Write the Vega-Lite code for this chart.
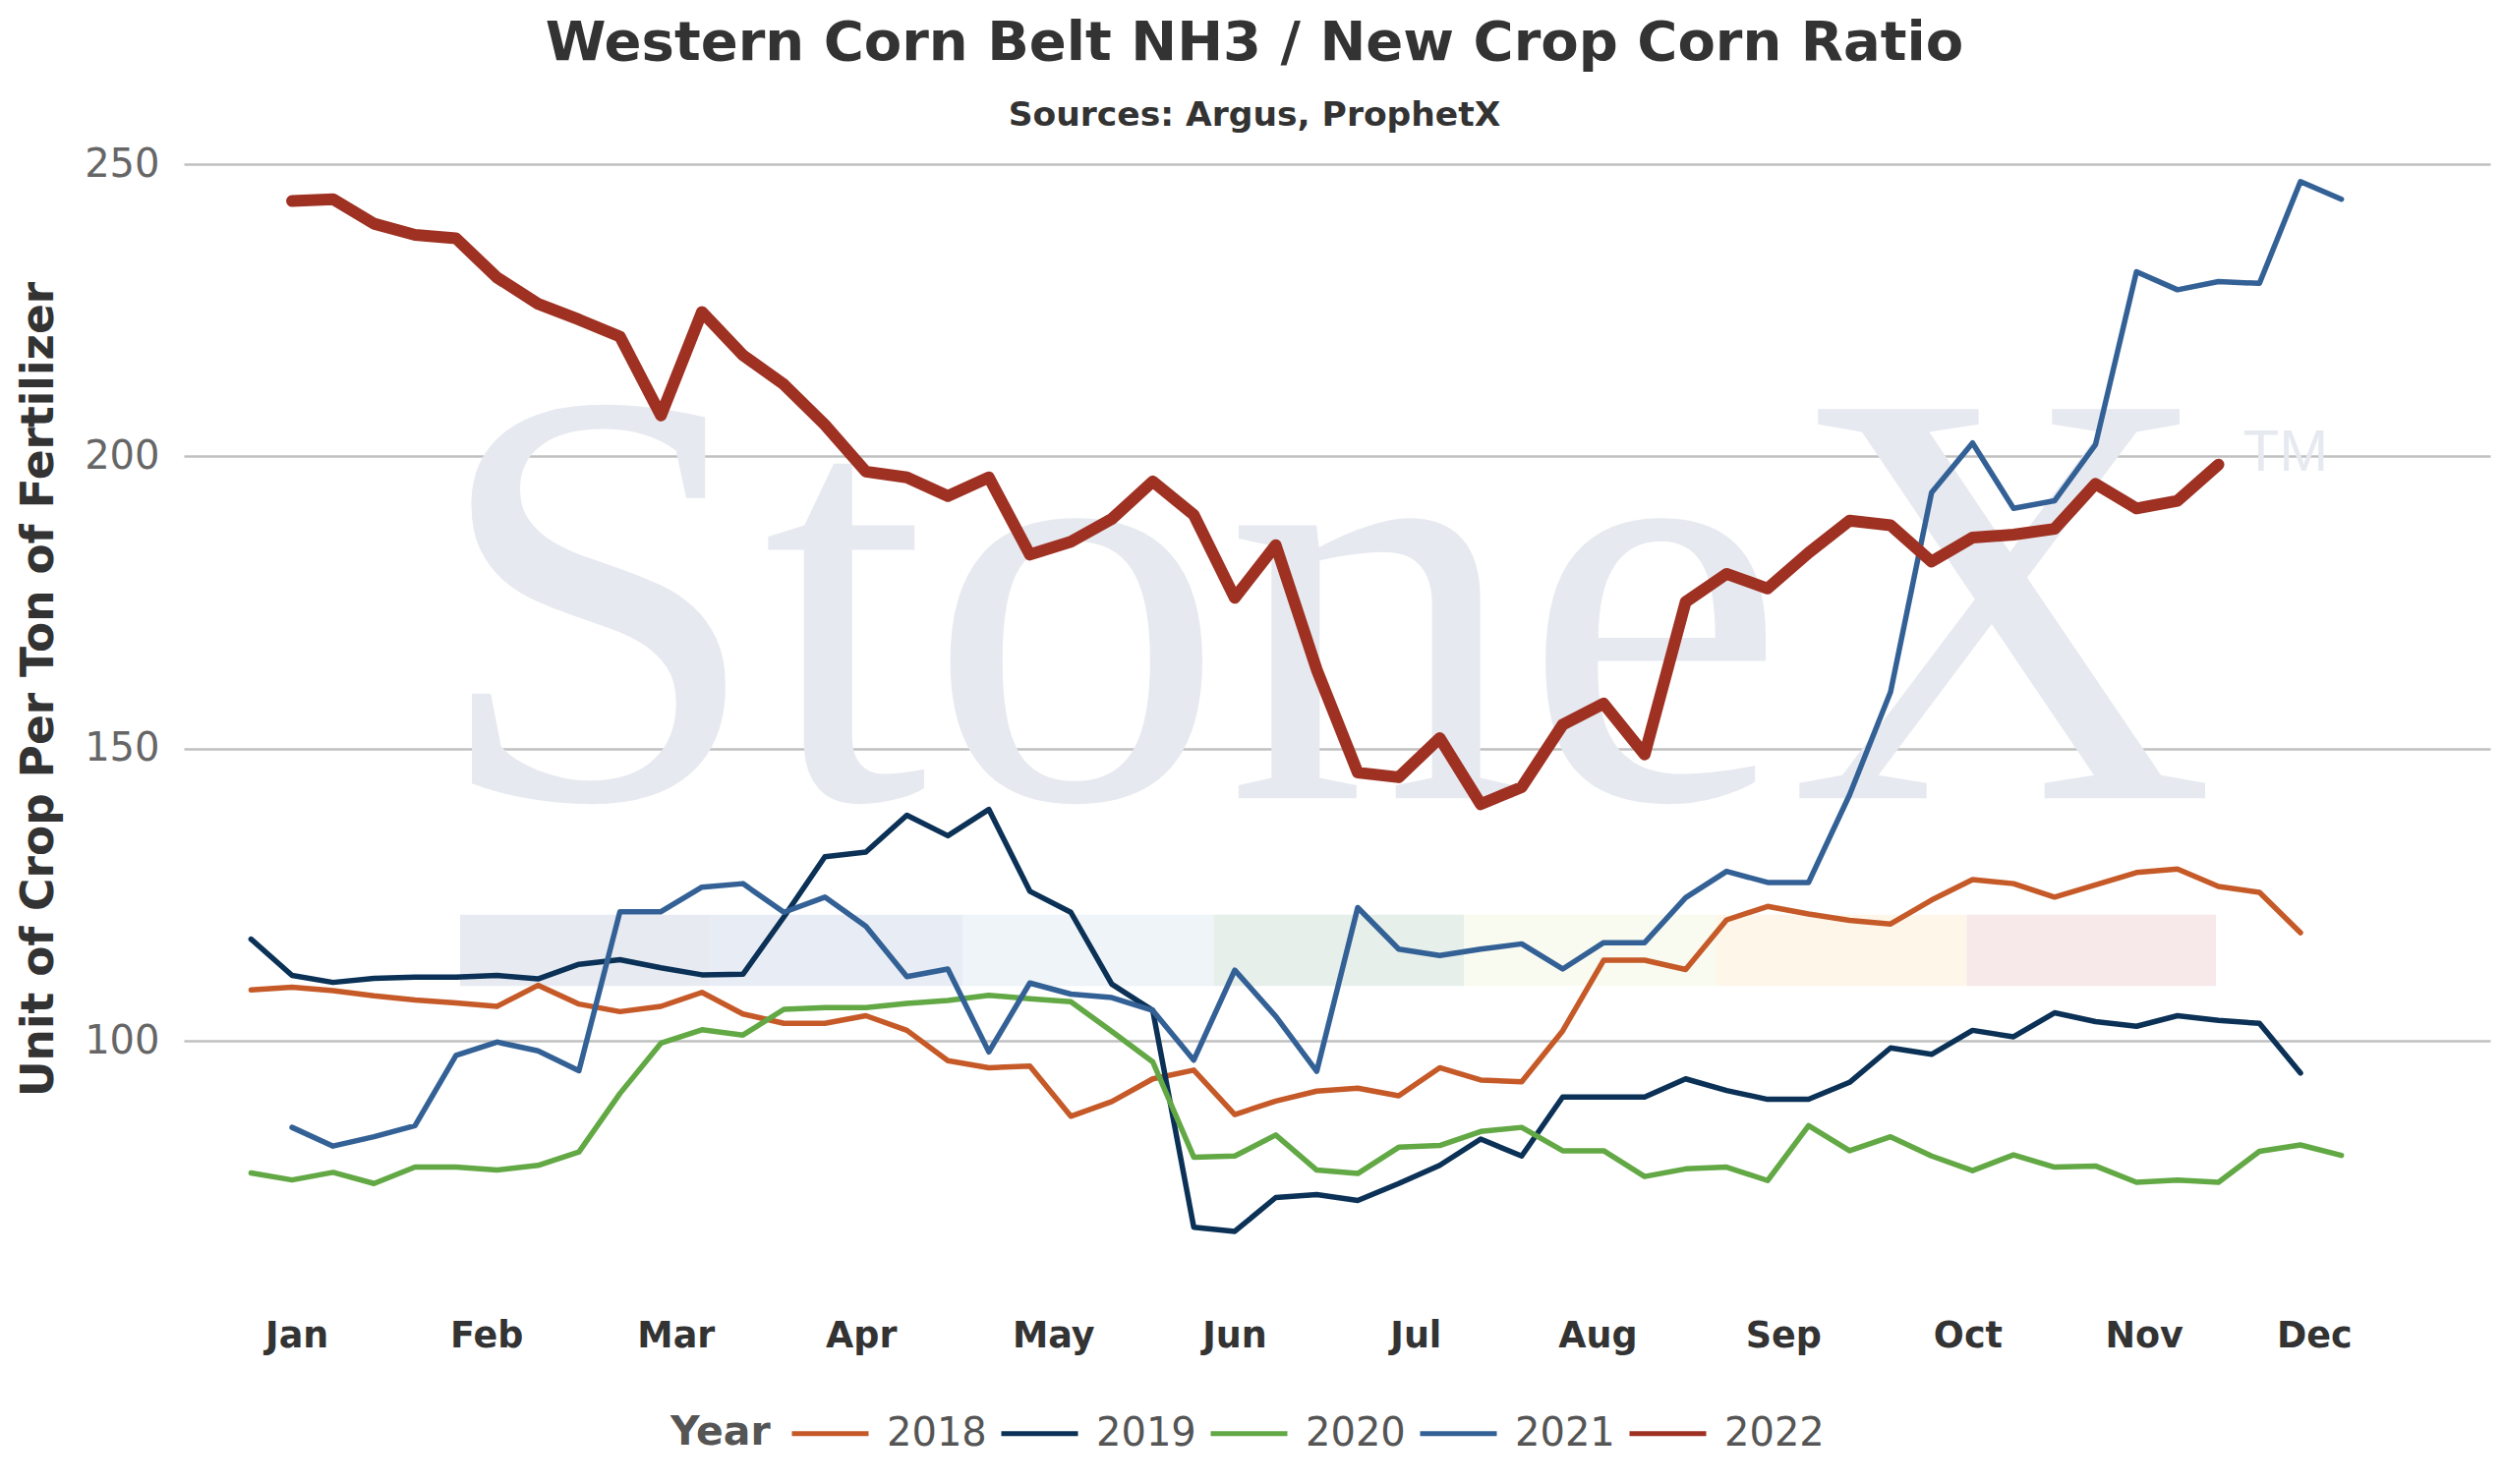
{
  "$schema": "https://vega.github.io/schema/vega-lite/v6.json",
  "width": 2346,
  "height": 1130,
  "autosize": {"type": "none"},
  "padding": {"left": 187, "top": 167, "right": 13, "bottom": 213},
  "background": "white",
  "title": {
    "text": "Western Corn Belt NH3 / New Crop Corn Ratio",
    "subtitle": "Sources: Argus, ProphetX",
    "anchor": "middle",
    "dx": -84,
    "offset": 12,
    "font": "DejaVu Sans",
    "fontSize": 56,
    "fontWeight": "bold",
    "color": "#333333",
    "subtitleFont": "DejaVu Sans",
    "subtitleFontSize": 34.5,
    "subtitleFontWeight": "bold",
    "subtitleColor": "#333333",
    "subtitlePadding": 28
  },
  "layer": [
    {
      "data": {
        "values": [
          {"Band": "B1", "Start": 5.1, "End": 11.21},
          {"Band": "B2", "Start": 11.21, "End": 17.37},
          {"Band": "B3", "Start": 17.37, "End": 23.48},
          {"Band": "B4", "Start": 23.48, "End": 29.6},
          {"Band": "B5", "Start": 29.6, "End": 35.75},
          {"Band": "B6", "Start": 35.75, "End": 41.86},
          {"Band": "B7", "Start": 41.86, "End": 47.94}
        ]
      },
      "mark": {"type": "rect"},
      "encoding": {
        "x": {"field": "Start", "type": "quantitative", "scale": {"domain": [-1.64, 54.63], "nice": false, "zero": false}},
        "x2": {"field": "End"},
        "y": {"datum": 109.4, "type": "quantitative", "scale": {"domain": [60, 250], "nice": false, "zero": false}},
        "y2": {"datum": 121.6},
        "fill": {
          "field": "Band",
          "type": "nominal",
          "scale": {
            "domain": ["B1", "B2", "B3", "B4", "B5", "B6", "B7"],
            "range": ["#e7ebf1", "#e8edf5", "#eef4f8", "#e6efe9", "#fafbf0", "#fdf6e9", "#f7e8e9"]
          },
          "legend": null
        }
      }
    },
    {
      "data": {"values": [{"Label": "StoneX"}]},
      "mark": {"type": "text", "font": "Liberation Serif", "fontSize": 605, "color": "#e6e9ef", "align": "center", "baseline": "alphabetic"},
      "encoding": {
        "x": {"datum": 26.17, "type": "quantitative", "scale": {"domain": [-1.64, 54.63], "nice": false, "zero": false}},
        "y": {"datum": 141.5, "type": "quantitative", "scale": {"domain": [60, 250], "nice": false, "zero": false}},
        "text": {"field": "Label"}
      }
    },
    {
      "data": {"values": [{"Label": "TM"}]},
      "mark": {"type": "text", "font": "Liberation Sans", "fontSize": 60, "color": "#e6e9ef", "align": "left", "baseline": "alphabetic"},
      "encoding": {
        "x": {"datum": 48.6, "type": "quantitative", "scale": {"domain": [-1.64, 54.63], "nice": false, "zero": false}},
        "y": {"datum": 197.5, "type": "quantitative", "scale": {"domain": [60, 250], "nice": false, "zero": false}},
        "text": {"field": "Label"}
      }
    },
    {
      "data": {
        "values": [
          {"Year": "2018", "Week": 0, "Ratio": 108.7}, {"Year": "2018", "Week": 1, "Ratio": 109.2}, {"Year": "2018", "Week": 2, "Ratio": 108.6},
          {"Year": "2018", "Week": 3, "Ratio": 107.7}, {"Year": "2018", "Week": 4, "Ratio": 107.0}, {"Year": "2018", "Week": 5, "Ratio": 106.5},
          {"Year": "2018", "Week": 6, "Ratio": 105.9}, {"Year": "2018", "Week": 7, "Ratio": 109.5}, {"Year": "2018", "Week": 8, "Ratio": 106.3},
          {"Year": "2018", "Week": 9, "Ratio": 105.0}, {"Year": "2018", "Week": 10, "Ratio": 105.9}, {"Year": "2018", "Week": 11, "Ratio": 108.3},
          {"Year": "2018", "Week": 12, "Ratio": 104.6}, {"Year": "2018", "Week": 13, "Ratio": 103.0}, {"Year": "2018", "Week": 14, "Ratio": 103.0},
          {"Year": "2018", "Week": 15, "Ratio": 104.3}, {"Year": "2018", "Week": 16, "Ratio": 101.8}, {"Year": "2018", "Week": 17, "Ratio": 96.6},
          {"Year": "2018", "Week": 18, "Ratio": 95.4}, {"Year": "2018", "Week": 19, "Ratio": 95.7}, {"Year": "2018", "Week": 20, "Ratio": 87.1},
          {"Year": "2018", "Week": 21, "Ratio": 89.6}, {"Year": "2018", "Week": 22, "Ratio": 93.5}, {"Year": "2018", "Week": 23, "Ratio": 95.0},
          {"Year": "2018", "Week": 24, "Ratio": 87.4}, {"Year": "2018", "Week": 25, "Ratio": 89.7}, {"Year": "2018", "Week": 26, "Ratio": 91.4},
          {"Year": "2018", "Week": 27, "Ratio": 91.9}, {"Year": "2018", "Week": 28, "Ratio": 90.6}, {"Year": "2018", "Week": 29, "Ratio": 95.4},
          {"Year": "2018", "Week": 30, "Ratio": 93.3}, {"Year": "2018", "Week": 31, "Ratio": 93.0}, {"Year": "2018", "Week": 32, "Ratio": 101.7},
          {"Year": "2018", "Week": 33, "Ratio": 113.8}, {"Year": "2018", "Week": 34, "Ratio": 113.8}, {"Year": "2018", "Week": 35, "Ratio": 112.2},
          {"Year": "2018", "Week": 36, "Ratio": 120.7}, {"Year": "2018", "Week": 37, "Ratio": 123.0}, {"Year": "2018", "Week": 38, "Ratio": 121.7},
          {"Year": "2018", "Week": 39, "Ratio": 120.6}, {"Year": "2018", "Week": 40, "Ratio": 120.0}, {"Year": "2018", "Week": 41, "Ratio": 124.1},
          {"Year": "2018", "Week": 42, "Ratio": 127.6}, {"Year": "2018", "Week": 43, "Ratio": 126.9}, {"Year": "2018", "Week": 44, "Ratio": 124.6},
          {"Year": "2018", "Week": 45, "Ratio": 126.7}, {"Year": "2018", "Week": 46, "Ratio": 128.8}, {"Year": "2018", "Week": 47, "Ratio": 129.4},
          {"Year": "2018", "Week": 48, "Ratio": 126.4}, {"Year": "2018", "Week": 49, "Ratio": 125.4}, {"Year": "2018", "Week": 50, "Ratio": 118.5},

          {"Year": "2019", "Week": 0, "Ratio": 117.4}, {"Year": "2019", "Week": 1, "Ratio": 111.2}, {"Year": "2019", "Week": 2, "Ratio": 110.0},
          {"Year": "2019", "Week": 3, "Ratio": 110.7}, {"Year": "2019", "Week": 4, "Ratio": 110.9}, {"Year": "2019", "Week": 5, "Ratio": 110.9},
          {"Year": "2019", "Week": 6, "Ratio": 111.2}, {"Year": "2019", "Week": 7, "Ratio": 110.6}, {"Year": "2019", "Week": 8, "Ratio": 113.1},
          {"Year": "2019", "Week": 9, "Ratio": 113.9}, {"Year": "2019", "Week": 10, "Ratio": 112.5}, {"Year": "2019", "Week": 11, "Ratio": 111.3},
          {"Year": "2019", "Week": 12, "Ratio": 111.4}, {"Year": "2019", "Week": 13, "Ratio": 121.2}, {"Year": "2019", "Week": 14, "Ratio": 131.5},
          {"Year": "2019", "Week": 15, "Ratio": 132.3}, {"Year": "2019", "Week": 16, "Ratio": 138.6}, {"Year": "2019", "Week": 17, "Ratio": 135.1},
          {"Year": "2019", "Week": 18, "Ratio": 139.6}, {"Year": "2019", "Week": 19, "Ratio": 125.6}, {"Year": "2019", "Week": 20, "Ratio": 122.0},
          {"Year": "2019", "Week": 21, "Ratio": 109.7}, {"Year": "2019", "Week": 22, "Ratio": 105.2}, {"Year": "2019", "Week": 23, "Ratio": 68.1},
          {"Year": "2019", "Week": 24, "Ratio": 67.4}, {"Year": "2019", "Week": 25, "Ratio": 73.2}, {"Year": "2019", "Week": 26, "Ratio": 73.7},
          {"Year": "2019", "Week": 27, "Ratio": 72.7}, {"Year": "2019", "Week": 28, "Ratio": 75.6}, {"Year": "2019", "Week": 29, "Ratio": 78.7},
          {"Year": "2019", "Week": 30, "Ratio": 83.2}, {"Year": "2019", "Week": 31, "Ratio": 80.3}, {"Year": "2019", "Week": 32, "Ratio": 90.4},
          {"Year": "2019", "Week": 33, "Ratio": 90.4}, {"Year": "2019", "Week": 34, "Ratio": 90.4}, {"Year": "2019", "Week": 35, "Ratio": 93.5},
          {"Year": "2019", "Week": 36, "Ratio": 91.5}, {"Year": "2019", "Week": 37, "Ratio": 90.0}, {"Year": "2019", "Week": 38, "Ratio": 90.0},
          {"Year": "2019", "Week": 39, "Ratio": 92.9}, {"Year": "2019", "Week": 40, "Ratio": 98.8}, {"Year": "2019", "Week": 41, "Ratio": 97.7},
          {"Year": "2019", "Week": 42, "Ratio": 101.8}, {"Year": "2019", "Week": 43, "Ratio": 100.7}, {"Year": "2019", "Week": 44, "Ratio": 104.8},
          {"Year": "2019", "Week": 45, "Ratio": 103.3}, {"Year": "2019", "Week": 46, "Ratio": 102.5}, {"Year": "2019", "Week": 47, "Ratio": 104.3},
          {"Year": "2019", "Week": 48, "Ratio": 103.5}, {"Year": "2019", "Week": 49, "Ratio": 103.0}, {"Year": "2019", "Week": 50, "Ratio": 94.5},

          {"Year": "2020", "Week": 0, "Ratio": 77.4}, {"Year": "2020", "Week": 1, "Ratio": 76.2}, {"Year": "2020", "Week": 2, "Ratio": 77.5},
          {"Year": "2020", "Week": 3, "Ratio": 75.6}, {"Year": "2020", "Week": 4, "Ratio": 78.4}, {"Year": "2020", "Week": 5, "Ratio": 78.4},
          {"Year": "2020", "Week": 6, "Ratio": 77.9}, {"Year": "2020", "Week": 7, "Ratio": 78.7}, {"Year": "2020", "Week": 8, "Ratio": 81.0},
          {"Year": "2020", "Week": 9, "Ratio": 91.0}, {"Year": "2020", "Week": 10, "Ratio": 99.6}, {"Year": "2020", "Week": 11, "Ratio": 101.9},
          {"Year": "2020", "Week": 12, "Ratio": 101.0}, {"Year": "2020", "Week": 13, "Ratio": 105.4}, {"Year": "2020", "Week": 14, "Ratio": 105.7},
          {"Year": "2020", "Week": 15, "Ratio": 105.7}, {"Year": "2020", "Week": 16, "Ratio": 106.4}, {"Year": "2020", "Week": 17, "Ratio": 106.9},
          {"Year": "2020", "Week": 18, "Ratio": 107.8}, {"Year": "2020", "Week": 19, "Ratio": 107.2}, {"Year": "2020", "Week": 20, "Ratio": 106.7},
          {"Year": "2020", "Week": 21, "Ratio": 101.6}, {"Year": "2020", "Week": 22, "Ratio": 96.4}, {"Year": "2020", "Week": 23, "Ratio": 80.1},
          {"Year": "2020", "Week": 24, "Ratio": 80.3}, {"Year": "2020", "Week": 25, "Ratio": 83.9}, {"Year": "2020", "Week": 26, "Ratio": 77.9},
          {"Year": "2020", "Week": 27, "Ratio": 77.3}, {"Year": "2020", "Week": 28, "Ratio": 81.8}, {"Year": "2020", "Week": 29, "Ratio": 82.1},
          {"Year": "2020", "Week": 30, "Ratio": 84.5}, {"Year": "2020", "Week": 31, "Ratio": 85.2}, {"Year": "2020", "Week": 32, "Ratio": 81.2},
          {"Year": "2020", "Week": 33, "Ratio": 81.2}, {"Year": "2020", "Week": 34, "Ratio": 76.8}, {"Year": "2020", "Week": 35, "Ratio": 78.1},
          {"Year": "2020", "Week": 36, "Ratio": 78.4}, {"Year": "2020", "Week": 37, "Ratio": 76.1}, {"Year": "2020", "Week": 38, "Ratio": 85.5},
          {"Year": "2020", "Week": 39, "Ratio": 81.2}, {"Year": "2020", "Week": 40, "Ratio": 83.6}, {"Year": "2020", "Week": 41, "Ratio": 80.3},
          {"Year": "2020", "Week": 42, "Ratio": 77.8}, {"Year": "2020", "Week": 43, "Ratio": 80.5}, {"Year": "2020", "Week": 44, "Ratio": 78.4},
          {"Year": "2020", "Week": 45, "Ratio": 78.6}, {"Year": "2020", "Week": 46, "Ratio": 75.8}, {"Year": "2020", "Week": 47, "Ratio": 76.2},
          {"Year": "2020", "Week": 48, "Ratio": 75.8}, {"Year": "2020", "Week": 49, "Ratio": 81.1}, {"Year": "2020", "Week": 50, "Ratio": 82.2},
          {"Year": "2020", "Week": 51, "Ratio": 80.4},

          {"Year": "2021", "Week": 1, "Ratio": 85.2}, {"Year": "2021", "Week": 2, "Ratio": 82.0}, {"Year": "2021", "Week": 3, "Ratio": 83.6},
          {"Year": "2021", "Week": 4, "Ratio": 85.5}, {"Year": "2021", "Week": 5, "Ratio": 97.5}, {"Year": "2021", "Week": 6, "Ratio": 99.8},
          {"Year": "2021", "Week": 7, "Ratio": 98.3}, {"Year": "2021", "Week": 8, "Ratio": 94.9}, {"Year": "2021", "Week": 9, "Ratio": 122.1},
          {"Year": "2021", "Week": 10, "Ratio": 122.1}, {"Year": "2021", "Week": 11, "Ratio": 126.3}, {"Year": "2021", "Week": 12, "Ratio": 126.9},
          {"Year": "2021", "Week": 13, "Ratio": 122.0}, {"Year": "2021", "Week": 14, "Ratio": 124.6}, {"Year": "2021", "Week": 15, "Ratio": 119.6},
          {"Year": "2021", "Week": 16, "Ratio": 111.0}, {"Year": "2021", "Week": 17, "Ratio": 112.3}, {"Year": "2021", "Week": 18, "Ratio": 98.1},
          {"Year": "2021", "Week": 19, "Ratio": 109.9}, {"Year": "2021", "Week": 20, "Ratio": 108.0}, {"Year": "2021", "Week": 21, "Ratio": 107.4},
          {"Year": "2021", "Week": 22, "Ratio": 105.2}, {"Year": "2021", "Week": 23, "Ratio": 96.7}, {"Year": "2021", "Week": 24, "Ratio": 112.1},
          {"Year": "2021", "Week": 25, "Ratio": 104.2}, {"Year": "2021", "Week": 26, "Ratio": 94.8}, {"Year": "2021", "Week": 27, "Ratio": 122.8},
          {"Year": "2021", "Week": 28, "Ratio": 115.7}, {"Year": "2021", "Week": 29, "Ratio": 114.6}, {"Year": "2021", "Week": 30, "Ratio": 115.7},
          {"Year": "2021", "Week": 31, "Ratio": 116.6}, {"Year": "2021", "Week": 32, "Ratio": 112.3}, {"Year": "2021", "Week": 33, "Ratio": 116.8},
          {"Year": "2021", "Week": 34, "Ratio": 116.8}, {"Year": "2021", "Week": 35, "Ratio": 124.5}, {"Year": "2021", "Week": 36, "Ratio": 129.0},
          {"Year": "2021", "Week": 37, "Ratio": 127.1}, {"Year": "2021", "Week": 38, "Ratio": 127.1}, {"Year": "2021", "Week": 39, "Ratio": 142.1},
          {"Year": "2021", "Week": 40, "Ratio": 159.7}, {"Year": "2021", "Week": 41, "Ratio": 193.8}, {"Year": "2021", "Week": 42, "Ratio": 202.3},
          {"Year": "2021", "Week": 43, "Ratio": 191.1}, {"Year": "2021", "Week": 44, "Ratio": 192.4}, {"Year": "2021", "Week": 45, "Ratio": 202.0},
          {"Year": "2021", "Week": 46, "Ratio": 231.6}, {"Year": "2021", "Week": 47, "Ratio": 228.5}, {"Year": "2021", "Week": 48, "Ratio": 229.9},
          {"Year": "2021", "Week": 49, "Ratio": 229.6}, {"Year": "2021", "Week": 50, "Ratio": 247.0}, {"Year": "2021", "Week": 51, "Ratio": 244.0},

          {"Year": "2022", "Week": 1, "Ratio": 243.7}, {"Year": "2022", "Week": 2, "Ratio": 244.0}, {"Year": "2022", "Week": 3, "Ratio": 239.8},
          {"Year": "2022", "Week": 4, "Ratio": 237.9}, {"Year": "2022", "Week": 5, "Ratio": 237.3}, {"Year": "2022", "Week": 6, "Ratio": 230.6},
          {"Year": "2022", "Week": 7, "Ratio": 226.1}, {"Year": "2022", "Week": 8, "Ratio": 223.4}, {"Year": "2022", "Week": 9, "Ratio": 220.5},
          {"Year": "2022", "Week": 10, "Ratio": 207.0}, {"Year": "2022", "Week": 11, "Ratio": 224.7}, {"Year": "2022", "Week": 12, "Ratio": 217.3},
          {"Year": "2022", "Week": 13, "Ratio": 212.3}, {"Year": "2022", "Week": 14, "Ratio": 205.4}, {"Year": "2022", "Week": 15, "Ratio": 197.4},
          {"Year": "2022", "Week": 16, "Ratio": 196.4}, {"Year": "2022", "Week": 17, "Ratio": 193.2}, {"Year": "2022", "Week": 18, "Ratio": 196.4},
          {"Year": "2022", "Week": 19, "Ratio": 183.2}, {"Year": "2022", "Week": 20, "Ratio": 185.4}, {"Year": "2022", "Week": 21, "Ratio": 189.3},
          {"Year": "2022", "Week": 22, "Ratio": 195.7}, {"Year": "2022", "Week": 23, "Ratio": 190.0}, {"Year": "2022", "Week": 24, "Ratio": 175.8},
          {"Year": "2022", "Week": 25, "Ratio": 184.8}, {"Year": "2022", "Week": 26, "Ratio": 163.5}, {"Year": "2022", "Week": 27, "Ratio": 145.9},
          {"Year": "2022", "Week": 28, "Ratio": 145.1}, {"Year": "2022", "Week": 29, "Ratio": 151.8}, {"Year": "2022", "Week": 30, "Ratio": 140.5},
          {"Year": "2022", "Week": 31, "Ratio": 143.4}, {"Year": "2022", "Week": 32, "Ratio": 154.1}, {"Year": "2022", "Week": 33, "Ratio": 157.7},
          {"Year": "2022", "Week": 34, "Ratio": 149.0}, {"Year": "2022", "Week": 35, "Ratio": 175.1}, {"Year": "2022", "Week": 36, "Ratio": 179.9},
          {"Year": "2022", "Week": 37, "Ratio": 177.4}, {"Year": "2022", "Week": 38, "Ratio": 183.5}, {"Year": "2022", "Week": 39, "Ratio": 189.0},
          {"Year": "2022", "Week": 40, "Ratio": 188.2}, {"Year": "2022", "Week": 41, "Ratio": 182.0}, {"Year": "2022", "Week": 42, "Ratio": 186.1},
          {"Year": "2022", "Week": 43, "Ratio": 186.6}, {"Year": "2022", "Week": 44, "Ratio": 187.6}, {"Year": "2022", "Week": 45, "Ratio": 195.3},
          {"Year": "2022", "Week": 46, "Ratio": 191.1}, {"Year": "2022", "Week": 47, "Ratio": 192.4}, {"Year": "2022", "Week": 48, "Ratio": 198.6}
        ]
      },
      "mark": {"type": "line", "strokeCap": "round", "strokeJoin": "round"},
      "encoding": {
        "x": {
          "field": "Week",
          "type": "quantitative",
          "scale": {"domain": [-1.64, 54.63], "nice": false, "zero": false},
          "axis": {
            "title": null,
            "values": [1.11, 5.74, 10.36, 14.88, 19.57, 23.99, 28.41, 32.85, 37.38, 41.88, 46.18, 50.33],
            "labelExpr": "['Jan','Feb','Mar','Apr','May','Jun','Jul','Aug','Sep','Oct','Nov','Dec'][indexof([1,6,10,15,20,24,28,33,37,42,46,50], round(datum.value))]",
            "grid": false,
            "domain": false,
            "ticks": false,
            "labelFont": "DejaVu Sans",
            "labelFontSize": 36.5,
            "labelFontWeight": "bold",
            "labelColor": "#333333",
            "labelPadding": 44,
            "labelFlush": false,
            "labelOverlap": false
          }
        },
        "y": {
          "field": "Ratio",
          "type": "quantitative",
          "scale": {"domain": [60, 250], "nice": false, "zero": false},
          "axis": {
            "title": "Unit of Crop Per Ton of Fertilizer",
            "values": [100, 150, 200, 250],
            "grid": true,
            "gridColor": "#c0c0c0",
            "gridWidth": 2.5,
            "domain": false,
            "ticks": false,
            "labelFont": "DejaVu Sans",
            "labelFontSize": 40,
            "labelColor": "#666666",
            "labelPadding": 25,
            "titleFont": "DejaVu Sans",
            "titleFontSize": 45.5,
            "titleFontWeight": "bold",
            "titleColor": "#333333",
            "titlePadding": 22,
            "titleY": 534
          }
        },
        "color": {
          "field": "Year",
          "type": "nominal",
          "scale": {
            "domain": ["2018", "2019", "2020", "2021", "2022"],
            "range": ["#c55a28", "#0b3156", "#62a844", "#336196", "#9f3123"]
          },
          "legend": {
            "orient": "none",
            "legendX": 495,
            "legendY": 1250,
            "direction": "horizontal",
            "title": "Year",
            "titleOrient": "left",
            "titleAnchor": "end",
            "titleBaseline": "bottom",
            "titleFont": "DejaVu Sans",
            "titleFontSize": 41,
            "titleFontWeight": "bold",
            "titleColor": "#555555",
            "titlePadding": 19,
            "labelFont": "DejaVu Sans",
            "labelFontSize": 40,
            "labelColor": "#555555",
            "labelOffset": 16,
            "columnPadding": 4,
            "symbolType": "stroke",
            "symbolSize": 6084,
            "symbolStrokeWidth": 5
          }
        },
        "strokeWidth": {
          "condition": {"test": "datum.Year == '2022'", "value": 12},
          "value": 5.5
        }
      }
    }
  ],
  "config": {
    "view": {"stroke": null}
  }
}
